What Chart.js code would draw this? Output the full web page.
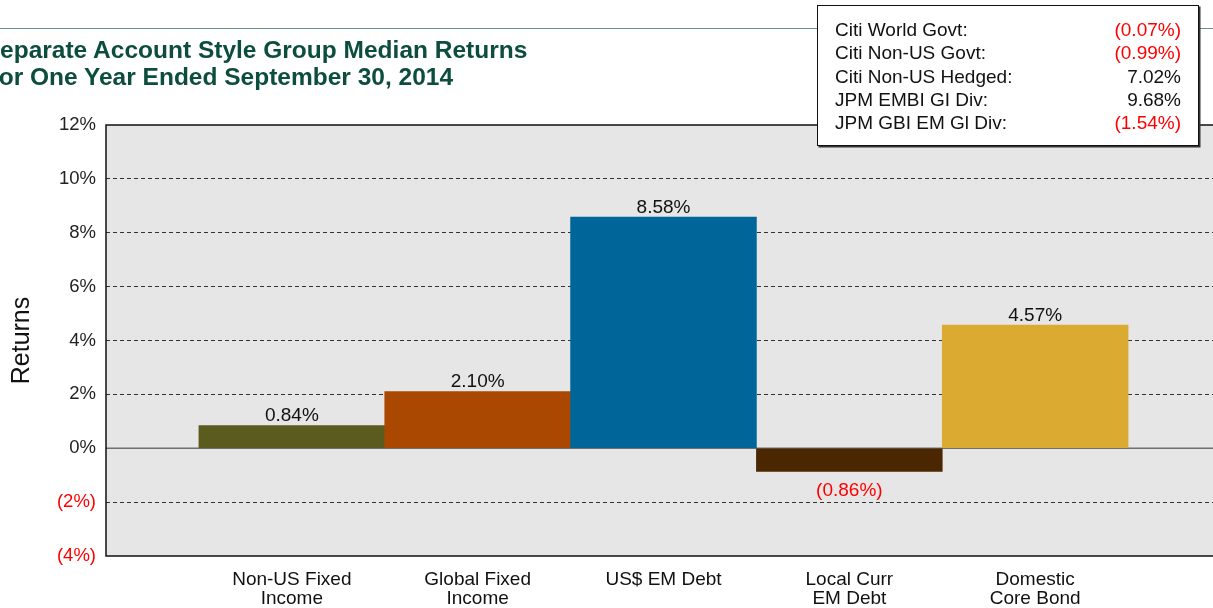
<!DOCTYPE html>
<html><head><meta charset="utf-8">
<script src="https://cdn.jsdelivr.net/npm/chart.js@4/dist/chart.umd.min.js"></script>
<style>
html,body{margin:0;padding:0;width:1213px;height:608px;overflow:hidden;background:#fff;font-family:"Liberation Sans",Arial,sans-serif;}
#wrap{position:relative;width:1213px;height:608px;overflow:hidden;}
#topline{position:absolute;left:0;top:28px;width:1213px;height:0;border-top:1.5px solid #6a8f8c;}
#title{position:absolute;left:-16.3px;top:36px;font-weight:bold;font-size:24.5px;line-height:27px;color:#0c4d3d;white-space:nowrap;}
#chart{position:absolute;left:0;top:0;}
#legend{position:absolute;left:817px;top:5px;width:380px;height:139px;background:#fff;border:1.5px solid #111;box-shadow:1.5px 1.5px 0 #333;font-size:19px;color:#111;}
.row{position:absolute;left:17px;right:17px;height:23px;line-height:23px;white-space:nowrap;}
.row .v{position:absolute;right:0;top:0;}
.neg{color:#ff0000;}
</style>
</head><body>
<div id="wrap">
  <div id="topline"></div>
  <canvas id="chart" width="1235" height="608"></canvas>
  <div id="title">Separate Account Style Group Median Returns<br>For One Year Ended September 30, 2014</div>
  <div id="legend"></div>
</div>
<script>
// ---- data ----
const categories = ['', ['Non-US Fixed', 'Income'], ['Global Fixed', 'Income'], 'US$ EM Debt', ['Local Curr', 'EM Debt'], ['Domestic', 'Core Bond'], ''];
const returns = [null, 0.84, 2.10, 8.58, -0.86, 4.57, null];
const barColors = ['#000000', '#5b5b1f', '#aa4700', '#006599', '#4a2700', '#dbab31', '#000000'];
const yTickValues = [-4, -2, 0, 2, 4, 6, 8, 10, 12];
const indexNames = ['Citi World Govt:', 'Citi Non-US Govt:', 'Citi Non-US Hedged:', 'JPM EMBI GI Div:', 'JPM GBI EM Gl Div:'];
const indexReturns = [-0.07, -0.99, 7.02, 9.68, -1.54];

const RED = '#ff0000';
const FONT = '"Liberation Sans", Arial, sans-serif';
function fmtPct(v, d) {
  const s = Math.abs(v).toFixed(d) + '%';
  return v < 0 ? '(' + s + ')' : s;
}

// ---- stats box ----
const legend = document.getElementById('legend');
indexNames.forEach((n, i) => {
  const r = document.createElement('div');
  r.className = 'row';
  r.style.top = (12 + 23.3 * i) + 'px';
  const v = indexReturns[i];
  r.innerHTML = '<span>' + n + '</span><span class="v' + (v < 0 ? ' neg' : '') + '">' + fmtPct(v, 2) + '</span>';
  legend.appendChild(r);
});

// ---- plugins ----
const plotBg = {
  id: 'plotBg',
  beforeDraw(chart) {
    const {ctx, chartArea: a} = chart;
    ctx.save();
    ctx.fillStyle = '#e6e6e6';
    ctx.fillRect(a.left, a.top, a.right - a.left, a.bottom - a.top);
    ctx.restore();
  }
};
const zeroLine = {
  id: 'zeroLine',
  beforeDatasetsDraw(chart) {
    const {ctx, chartArea: a, scales} = chart;
    const y = scales.y.getPixelForValue(0);
    ctx.save();
    ctx.strokeStyle = '#6e6e6e';
    ctx.lineWidth = 1.5;
    ctx.beginPath();
    ctx.moveTo(a.left, y);
    ctx.lineTo(a.right, y);
    ctx.stroke();
    ctx.restore();
  }
};
const frame = {
  id: 'frame',
  afterDatasetsDraw(chart) {
    const {ctx, chartArea: a} = chart;
    ctx.save();
    ctx.strokeStyle = '#111';
    ctx.lineWidth = 1.5;
    ctx.strokeRect(a.left, a.top, a.right - a.left, a.bottom - a.top);
    ctx.restore();
  }
};
const valueLabels = {
  id: 'valueLabels',
  afterDatasetsDraw(chart) {
    const {ctx} = chart;
    const meta = chart.getDatasetMeta(0);
    ctx.save();
    ctx.font = '19px ' + FONT;
    ctx.textAlign = 'center';
    ctx.textBaseline = 'alphabetic';
    meta.data.forEach((bar, i) => {
      const v = returns[i];
      if (v === null || v === undefined) return;
      if (v >= 0) {
        ctx.fillStyle = '#111';
        ctx.fillText(fmtPct(v, 2), bar.x, bar.y - 4.5);
      } else {
        ctx.fillStyle = RED;
        ctx.fillText(fmtPct(v, 2), bar.x, bar.y + 24.5);
      }
    });
    ctx.restore();
  }
};

new Chart(document.getElementById('chart'), {
  type: 'bar',
  data: {
    labels: categories,
    datasets: [{
      data: returns,
      backgroundColor: barColors,
      borderWidth: 0,
      barPercentage: 1,
      categoryPercentage: 1
    }]
  },
  options: {
    responsive: false,
    animation: false,
    layout: {padding: {top: 125, right: 10, left: 0, bottom: 0}},
    plugins: {legend: {display: false}, tooltip: {enabled: false}, title: {display: false}},
    scales: {
      x: {
        offset: false,
        grid: {display: false, drawTicks: false},
        border: {display: false},
        ticks: {
          autoSkip: false, maxRotation: 0, padding: 14,
          color: '#111', font: {family: FONT, size: 19, lineHeight: 1.0}
        },
        afterFit(scale) { scale.height = 52; }
      },
      y: {
        min: -4, max: 12,
        afterBuildTicks(scale) { scale.ticks = yTickValues.map(v => ({value: v})); },
        grid: {
          drawTicks: false,
          lineWidth: 1,
          color: (c) => (c.tick && (c.tick.value === 12 || c.tick.value === -4 || c.tick.value === 0)) ? 'rgba(0,0,0,0)' : '#333'
        },
        border: {display: false, dash: [4, 3]},
        ticks: {
          padding: 10,
          color: (c) => (c.tick && c.tick.value < 0) ? RED : '#222',
          font: {family: FONT, size: 18.5},
          callback: (v) => fmtPct(v, 0)
        },
        title: {
          display: true, text: 'Returns', color: '#111',
          font: {family: FONT, size: 25}, padding: {top: 7.5, bottom: 0}
        },
        afterFit(scale) { scale.width = 106; }
      }
    }
  },
  plugins: [plotBg, zeroLine, frame, valueLabels]
});
</script>
</body></html>
